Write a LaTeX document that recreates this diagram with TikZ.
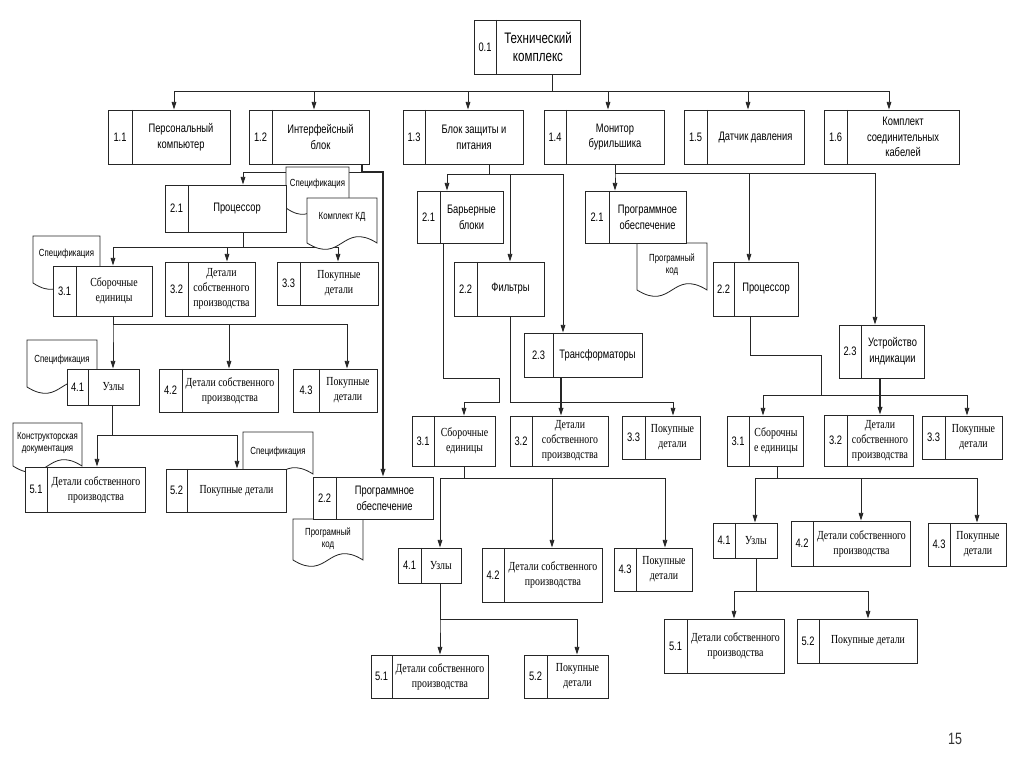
\documentclass[tikz,border=0pt]{standalone}
\usepackage{fontspec}
\setmainfont{Liberation Sans}[FakeStretch=0.76]
\newfontfamily\srf{Liberation Serif}[FakeStretch=0.8]
\usetikzlibrary{arrows.meta,fit,backgrounds}
\tikzset{
  bxst/.style={draw=black!85, fill=white, line width=0.8pt, inner sep=0pt},
  numtxt/.style={font=\fontsize{10.5}{12}\selectfont, inner sep=0pt},
  ttl/.style={font=\fontsize{13}{15.5}\selectfont, align=center, inner sep=0pt},
  sn/.style={font=\fontsize{10.5}{13.5}\selectfont, align=center, inner sep=0pt},
  sr/.style={font=\srf\fontsize{10.5}{12.8}\selectfont, align=center, inner sep=0pt},
  dt/.style={font=\fontsize{8.8}{10.2}\selectfont, align=center, inner sep=0pt},
  docst/.style={draw=black!85, fill=white, line width=0.7pt},
  cn/.style={draw=black!85, line width=0.75pt},
  ar/.style={cn, -{Triangle[length=2.3mm,width=1.4mm]}},
  thk/.style={line width=1.2pt}
}
\newcommand\bx[9]{%
  \node[bxst, fit={(#2,#3) (#4,#5)}] (#1) {};
  \draw[draw=black!85, line width=0.8pt] (#6,#3) -- (#6,#5);
  \node[numtxt] (#1n) at ({(#2+#6)/2},{(#3+#5)/2}) {#7};
  \node[#9] (#1t) at ({(#6+#4)/2},{(#3+#5)/2}) {#8};
}
\newcommand\docshape[7]{%
  \draw[docst] (#2,#5) -- (#2,#3) -- (#4,#3) -- (#4,#5)
    .. controls ({(#2+#4)/2},{#5-22}) and ({(#2+#4)/2},{#5+22}) .. (#2,#5) -- cycle;
  \node[dt] (#1) at ({(#2+#4)/2},#7) {#6};
}
\begin{document}
\begin{tikzpicture}[x=0.03cm,y=-0.03cm]
\useasboundingbox (0,0) rectangle (1024,767);
% level 0/1
\bx{n01}{474}{20}{580}{74}{496}{0.1}{Технический\\комплекс}{ttl}
\bx{n11}{108}{110}{230}{164}{132}{1.1}{Персональный\\компьютер}{sn}
\bx{n12}{249}{110}{369}{164}{272}{1.2}{Интерфейсный\\блок}{sn}
\bx{n13}{403}{110}{523}{164}{425}{1.3}{Блок защиты и\\питания}{sn}
\bx{n14}{544}{110}{664}{164}{566}{1.4}{Монитор\\бурильшика}{sn}
\bx{n15}{684}{110}{804}{164}{707}{1.5}{Датчик давления}{sn}
\bx{n16}{824}{110}{959}{164}{847}{1.6}{Комплект\\соединительных\\кабелей}{sn}
% 1.2 subtree
\bx{a21}{165}{185}{286}{232}{188}{2.1}{Процессор}{sn}
\bx{a31}{53}{266}{152}{316}{76}{3.1}{Сборочные\\единицы}{sr}
\bx{a32}{165}{262}{255}{316}{188}{3.2}{Детали\\собственного\\производства}{sr}
\bx{a33}{277}{262}{378}{305}{300}{3.3}{Покупные\\детали}{sr}
\bx{a41}{67}{369}{139}{405}{88}{4.1}{Узлы}{sr}
\bx{a42}{159}{369}{278}{412}{182}{4.2}{Детали собственного\\производства}{sr}
\bx{a43}{293}{369}{377}{412}{319}{4.3}{Покупные\\детали}{sr}
\bx{a51}{25}{467}{145}{512}{47}{5.1}{Детали собственного\\производства}{sr}
\bx{a52}{166}{469}{286}{512}{187}{5.2}{Покупные детали}{sr}
\bx{a22}{313}{477}{433}{519}{336}{2.2}{Программное\\обеспечение}{sn}
% 1.3 subtree
\bx{b21}{417}{191}{503}{243}{440}{2.1}{Барьерные\\блоки}{sn}
\bx{b22}{454}{262}{544}{316}{477}{2.2}{Фильтры}{sn}
\bx{b23}{524}{333}{642}{377}{553}{2.3}{Трансформаторы}{sn}
\bx{b31}{412}{416}{495}{466}{434}{3.1}{Сборочные\\единицы}{sr}
\bx{b32}{510}{416}{608}{466}{532}{3.2}{Детали\\собственного\\производства}{sr}
\bx{b33}{622}{416}{700}{459}{645}{3.3}{Покупные\\детали}{sr}
\bx{b41}{398}{548}{461}{583}{421}{4.1}{Узлы}{sr}
\bx{b42}{482}{548}{602}{602}{504}{4.2}{Детали собственного\\производства}{sr}
\bx{b43}{614}{548}{692}{591}{636}{4.3}{Покупные\\детали}{sr}
\bx{b51}{371}{655}{488}{698}{392}{5.1}{Детали собственного\\производства}{sr}
\bx{b52}{524}{655}{608}{698}{547}{5.2}{Покупные\\детали}{sr}
% 1.4 subtree
\bx{c21}{585}{191}{686}{243}{609}{2.1}{Программное\\обеспечение}{sn}
\bx{c22}{713}{262}{798}{316}{734}{2.2}{Процессор}{sn}
\bx{c23}{839}{325}{924}{378}{861}{2.3}{Устройство\\индикации}{sn}
\bx{c31}{727}{416}{803}{466}{749}{3.1}{Сборочны\\е единицы}{sr}
\bx{c32}{824}{415}{913}{466}{847}{3.2}{Детали\\собственного\\производства}{sr}
\bx{c33}{922}{416}{1002}{459}{945}{3.3}{Покупные\\детали}{sr}
\bx{c41}{713}{523}{777}{558}{735}{4.1}{Узлы}{sr}
\bx{c42}{791}{521}{910}{566}{813}{4.2}{Детали собственного\\производства}{sr}
\bx{c43}{928}{523}{1006}{566}{950}{4.3}{Покупные\\детали}{sr}
\bx{c51}{664}{619}{784}{673}{687}{5.1}{Детали собственного\\производства}{sr}
\bx{c52}{797}{619}{917}{663}{819}{5.2}{Покупные детали}{sr}
\node[font=\fontsize{14}{16}\selectfont, text=black!80] (pg) at (955,739) {15};
\begin{scope}[on background layer]
\fill[white] (0,0) rectangle (1024,767);
% root connectors
\foreach \nm/\xx in {n11/174,n12/314,n13/468,n14/608,n15/748,n16/889}
  \draw[ar] (n01.south-|552,0) -- (552,91) -| (\nm.north-|\xx,0);
% 1.2 subtree
\draw[ar] (n12.south-|362,0) -- (362,172) -| (a21.north-|243,0);
\draw[ar,thk] (n12.south-|362,0) -- (362,172) -| (a22.north-|383,0);
\foreach \nm/\xx in {a31/113,a32/227,a33/338}
  \draw[ar] (a21.south-|243,0) -- (243,247) -| (\nm.north-|\xx,0);
\foreach \nm/\xx in {a41/113,a42/229,a43/347}
  \draw[ar] (a31.south-|113,0) -- (113,324) -| (\nm.north-|\xx,0);
\foreach \nm/\xx in {a51/97,a52/237}
  \draw[ar] (a41.south-|112,0) -- (112,435) -| (\nm.north-|\xx,0);
% 1.3 subtree
\foreach \nm/\xx in {b21/447,b22/510,b23/563}
  \draw[ar] (n13.south-|489,0) -- (489,174) -| (\nm.north-|\xx,0);
\draw[ar] (b21.south-|443,0) |- (499,378) -- (499,402) -| (b31.north-|464,0);
\draw[ar] (b22.south-|510,0) -- (510,402) -| (b33.north-|673,0);
\draw[ar,thk] (b23.south-|561,0) -- (b32.north-|561,0);
\foreach \nm/\xx in {b41/440,b42/552,b43/665}
  \draw[ar] (b31.south-|464,0) -- (464,478) -| (\nm.north-|\xx,0);
\foreach \nm/\xx in {b51/440,b52/577}
  \draw[ar] (b41.south-|440,0) -- (440,619) -| (\nm.north-|\xx,0);
% 1.4 subtree
\foreach \nm/\xx in {c21/615,c22/749,c23/875}
  \draw[ar] (n14.south-|615,0) -- (615,173) -| (\nm.north-|\xx,0);
\draw[ar] (c22.south-|750,0) |- (821,355) -- (821,395) -| (c31.north-|763,0);
\draw[ar] (c22.south-|750,0) |- (821,355) -- (821,395) -| (c33.north-|967,0);
\draw[ar,thk] (c23.south-|880,0) -- (c32.north-|880,0);
\foreach \nm/\xx in {c41/755,c42/861,c43/977}
  \draw[ar] (c31.south-|777,0) -- (777,478) -| (\nm.north-|\xx,0);
\foreach \nm/\xx in {c51/734,c52/868}
  \draw[ar] (c41.south-|756,0) -- (756,591) -| (\nm.north-|\xx,0);
% documents
\docshape{d1}{286}{167}{349}{208}{Спецификация}{184}
\docshape{d2}{307}{198}{377}{243}{Комплект КД}{217}
\docshape{d3}{33}{236}{100}{283}{Спецификация}{254}
\docshape{d4}{27}{340}{97}{387}{Спецификация}{360}
\docshape{d5}{13}{423}{82}{466}{Конструкторская\\документация}{443}
\docshape{d6}{243}{432}{313}{474}{Спецификация}{452}
\docshape{d7}{293}{519}{363}{560}{Програмный\\код}{539}
\docshape{d8}{637}{243}{707}{290}{Програмный\\код}{265}
\end{scope}
\end{tikzpicture}
\end{document}
